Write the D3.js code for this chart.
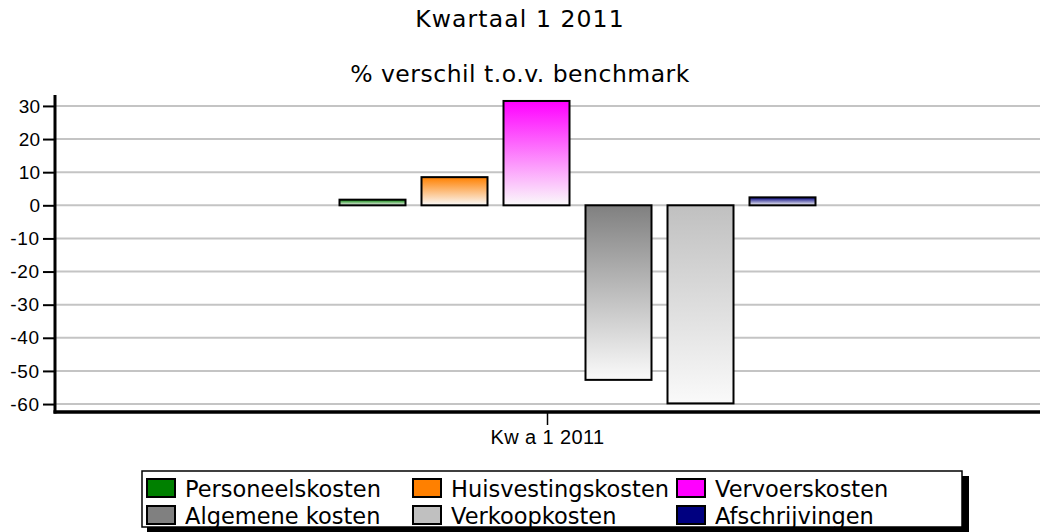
<!DOCTYPE html>
<html><head><meta charset="utf-8">
<script src="https://cdn.jsdelivr.net/npm/d3@7/dist/d3.min.js"></script>
<style>
body{margin:0;background:#fff;}
svg{display:block;}
</style>
</head><body>
<svg id="chart" width="1040" height="532"></svg>
<script>
const titleText = "Kwartaal 1 2011";
const subtitleText = "% verschil t.o.v. benchmark";
const categories = ["Kw a 1 2011"];
const seriesNames = ["Personeelskosten","Huisvestingskosten","Vervoerskosten","Algemene kosten","Verkoopkosten","Afschrijvingen"];
const seriesColors = ["#008000","#ff8000","#ff00ff","#808080","#c0c0c0","#000080"];
const seriesValues = [1.7, 8.5, 31.5, -52.7, -59.8, 2.4];
const yTicks = [30,20,10,0,-10,-20,-30,-40,-50,-60];

const svg = d3.select("#chart");
const W = 1040, H = 532;
const plot = {left:55, right:1040, top:95, bottom:412};

const y = d3.scaleLinear().domain([-62.4, 33.3]).range([plot.bottom, plot.top]);
const x0 = d3.scaleBand().domain(categories).range([plot.left, plot.right]);
const groupOffset = 30;
const cx = x0(categories[0]) + x0.bandwidth()/2;
const x1 = d3.scaleBand().domain(seriesNames)
  .range([cx + groupOffset - 246, cx + groupOffset + 246])
  .paddingInner(16/82).paddingOuter(8/82);

// titles
svg.append("text").attr("x", W/2).attr("y", 27).attr("text-anchor","middle")
  .attr("font-family","DejaVu Sans").attr("font-size",23.5).attr("letter-spacing",1.1).text(titleText);
svg.append("text").attr("x", W/2).attr("y", 82).attr("text-anchor","middle")
  .attr("font-family","DejaVu Sans").attr("font-size",23.5).attr("letter-spacing",0.5).text(subtitleText);

// grid
svg.append("g").selectAll("line").data(yTicks).join("line")
  .attr("x1", plot.left).attr("x2", plot.right)
  .attr("y1", d=>y(d)).attr("y2", d=>y(d))
  .attr("stroke","#c4c4c4").attr("stroke-width",2);

// gradients
const defs = svg.append("defs");
seriesNames.forEach((s,i)=>{
  const g = defs.append("linearGradient").attr("id","grad"+i)
    .attr("x1",0).attr("y1",0).attr("x2",0).attr("y2",1);
  g.append("stop").attr("offset","0%").attr("stop-color",seriesColors[i]);
  g.append("stop").attr("offset","100%").attr("stop-color","#fafafa");
});

// bars
svg.append("g").selectAll("rect").data(seriesValues).join("rect")
  .attr("x",(d,i)=>x1(seriesNames[i]))
  .attr("width", x1.bandwidth())
  .attr("y", d=>y(Math.max(0,d)))
  .attr("height", d=>Math.abs(y(d)-y(0)))
  .attr("fill",(d,i)=>`url(#grad${i})`)
  .attr("stroke","#000").attr("stroke-width",2);

// y axis
const yAxis = d3.axisLeft(y).tickValues(yTicks).tickSize(12).tickPadding(3).tickFormat(d=>d);
const gy = svg.append("g").attr("transform",`translate(${plot.left},0)`).call(yAxis);
gy.select(".domain").remove();
gy.selectAll(".tick line").attr("stroke","#000").attr("stroke-width",2);
gy.selectAll(".tick text").attr("font-family","Liberation Sans, Arial").attr("font-size",19).attr("fill","#000")
  .attr("letter-spacing",d=>d<0?0.8:0);
svg.append("line").attr("x1",plot.left).attr("x2",plot.left).attr("y1",plot.top).attr("y2",plot.bottom+1.5)
  .attr("stroke","#000").attr("stroke-width",3);

// x axis
const xAxis = d3.axisBottom(x0).tickSize(13).tickPadding(5);
const gx = svg.append("g").attr("transform",`translate(0,${plot.bottom})`).call(xAxis);
gx.select(".domain").remove();
gx.selectAll(".tick line").attr("stroke","#000").attr("stroke-width",1.5);
gx.selectAll(".tick text").attr("font-family","Liberation Sans, Arial").attr("font-size",20)
  .attr("letter-spacing",0.4).attr("fill","#000");
svg.append("line").attr("x1",plot.left-1.5).attr("x2",plot.right).attr("y1",plot.bottom).attr("y2",plot.bottom)
  .attr("stroke","#000").attr("stroke-width",3.5);

// legend
const lg = svg.append("g");
lg.append("rect").attr("x",147).attr("y",476).attr("width",822).attr("height",56).attr("fill","#000");
lg.append("rect").attr("x",142).attr("y",471).attr("width",820).attr("height",56)
  .attr("fill","#fff").attr("stroke","#000").attr("stroke-width",1.5);
const colX = [147, 413, 677];
const rowY = [488, 515];
const items = lg.selectAll("g.item").data(seriesNames).join("g").attr("class","item")
  .attr("transform",(d,i)=>`translate(${colX[i%3]},${rowY[Math.floor(i/3)]})`);
items.append("rect").attr("x",0).attr("y",-9).attr("width",28).attr("height",18)
  .attr("fill",(d,i)=>seriesColors[i]).attr("stroke","#000").attr("stroke-width",2);
items.append("text").attr("x",38).attr("y",9).attr("font-family","DejaVu Sans").attr("font-size",22.5)
  .text(d=>d);
</script>
</body></html>
